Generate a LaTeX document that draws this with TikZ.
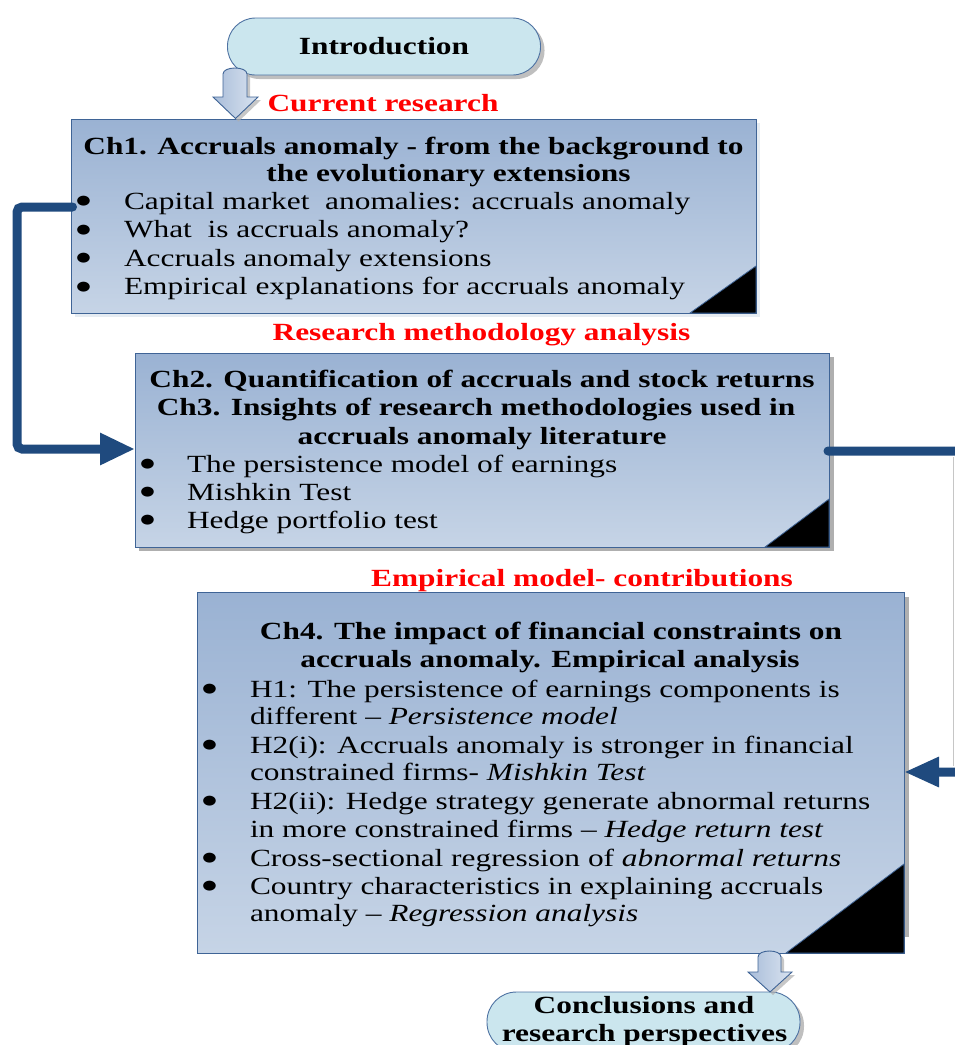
\documentclass[tikz,border=0pt]{standalone}
\usepackage{fontspec}
\setmainfont{Liberation Serif}[FakeStretch=1.27]
\newfontfamily\bulfont{DejaVu Sans}[FakeStretch=1.27]
\usetikzlibrary{arrows.meta,calc,shadows}
\definecolor{boxtop}{HTML}{9AB2D3}
\definecolor{boxbot}{HTML}{C6D4E6}
\definecolor{boxline}{HTML}{3F6496}
\definecolor{conn}{HTML}{1F4A7E}
\definecolor{pillfill}{HTML}{CBE6EE}
\definecolor{pillline}{HTML}{4E72A2}
\definecolor{arrL}{HTML}{A9BDD9}
\definecolor{arrR}{HTML}{D9E3F0}
\definecolor{shad}{HTML}{AFAFAF}
\definecolor{lightshad}{HTML}{E6ECF2}
\begin{document}
\begin{tikzpicture}[x=1pt,y=-1pt,
  every node/.style={inner sep=0pt, outer sep=0pt},
  chapbox/.style={draw=boxline, line width=0.9pt, top color=boxtop, bottom color=boxbot, rectangle, anchor=north west},
  pill/.style={draw=pillline, line width=0.9pt, fill=pillfill, minimum width=313pt,
     drop shadow={shadow xshift=4pt, shadow yshift=-4pt, fill=shad, opacity=0.8}},
  txt/.style={font=\fontsize{24.7}{28.4}\selectfont, anchor=base west},
  ttl/.style={font=\bfseries\fontsize{24.7}{27}\selectfont, anchor=base},
  redlabel/.style={font=\bfseries\fontsize{24.7}{28}\selectfont, text=red, anchor=base},
  bul/.style={font=\bulfont\fontsize{13}{14}\selectfont, anchor=center, yshift=7.5pt},
  connector/.style={draw=conn, line width=9pt, line cap=round, rounded corners=5pt},
  fold/.style={fill=black, draw=boxline, line width=0.8pt},
  blockarrow/.style={draw=boxline, line width=0.9pt, left color=arrL, right color=arrR,
     drop shadow={shadow xshift=3pt, shadow yshift=-3pt, fill=shad, opacity=0.7}}
]
\useasboundingbox (0,0) rectangle (955,1045);
\clip (0,0) rectangle (955,1045);

% shadows of the boxes
\fill[lightshad] (75,123) rectangle (760,317);
\fill[shad] (139,357) rectangle (834,551);
\fill[shad] (904,597) rectangle (909,937);

% chapter boxes
\node[chapbox, minimum width=685pt, minimum height=194pt] (b1) at (71,119) {};
\node[chapbox, minimum width=694pt, minimum height=194pt] (b2) at (135,353) {};
\node[chapbox, minimum width=707pt, minimum height=361pt] (b3) at (197,592) {};

% folded corners
\draw[fold] ($(b1.south east)+(-66,0)$) -- (b1.south east) -- ($(b1.south east)+(0,-47)$) -- cycle;
\draw[fold] ($(b2.south east)+(-64,0)$) -- (b2.south east) -- ($(b2.south east)+(0,-48)$) -- cycle;
\draw[fold] ($(b3.south east)+(-118,0)$) -- (b3.south east) -- ($(b3.south east)+(0,-89)$) -- cycle;

% terminal pills
\node[pill, minimum height=57pt, rounded corners=28pt,
      font=\bfseries\fontsize{24.7}{28}\selectfont] (intro) at (384,46.5) {Introduction};
\node[pill, minimum height=60pt, rounded corners=29.5pt] (concl) at (643.5,1022) {};
\node[ttl] (c1) at (644,1013) {Conclusions and};
\node[ttl] (c2) at (644.5,1041) {research perspectives};

% block arrows
\draw[blockarrow] (213,97) -- (223,97) -- (223,74) .. controls (223,66) and (247,66) .. (247,74)
   -- (247,97) -- (258,97) -- (235.5,118.5) -- cycle;
\draw[blockarrow] (748,972) -- (758,972) -- (758,957) .. controls (758,949) and (781,949) .. (781,957)
   -- (781,972) -- (792,972) -- (770,992) -- cycle;

% connectors
\draw[gray!45, line width=1pt] (953,457) -- (953,766);
\draw[connector, -{Triangle[length=35pt,width=30pt]}]
   ($(b1.north west)+(1.5,88)$) -- (17,207) -- (17,449) -- ($(b2.north west)+(0,96)$);
\draw[connector, -{Triangle[length=35pt,width=28pt]}]
   ($(b2.north east)+(-1,98)$) -- (962,451) -- (962,772) -- ($(b3.north east)+(0,180)$);

% section labels
\node[redlabel] (r1) at (383,111) {Current research};
\node[redlabel] (r2) at (481.5,340) {Research methodology analysis};
\node[redlabel] (r3) at (582,586) {Empirical model- contributions};

% box 1 text
\node[ttl] (t11) at (413.5,154) {Ch1. Accruals anomaly - from the background to};
\node[ttl] (t12) at (448.5,181) {the evolutionary extensions};
\node[bul] (u11) at (83.5,209) {●};
\node[bul] (u12) at (83.5,237.7) {●};
\node[bul] (u13) at (83.5,266) {●};
\node[bul] (u14) at (83.5,294.3) {●};
\node[txt] (l11) at (124,209) {Capital market\ \ anomalies: accruals anomaly};
\node[txt] (l12) at (124,237.7) {What\ \ is accruals anomaly?};
\node[txt] (l13) at (124,266) {Accruals anomaly extensions};
\node[txt] (l14) at (124,294.3) {Empirical explanations for accruals anomaly};

% box 2 text
\node[ttl] (t21) at (482,387) {Ch2. Quantification of accruals and stock returns};
\node[ttl] (t22) at (476,415) {Ch3. Insights of research methodologies used in};
\node[ttl] (t23) at (482,444) {accruals anomaly literature};
\node[bul] (u21) at (147.5,472) {●};
\node[bul] (u22) at (147.5,500) {●};
\node[bul] (u23) at (147.5,528) {●};
\node[txt] (l21) at (187,472) {The persistence model of earnings};
\node[txt] (l22) at (187,500) {Mishkin Test};
\node[txt] (l23) at (187,528) {Hedge portfolio test};

% box 3 text
\node[ttl] (t31) at (551,639) {Ch4. The impact of financial constraints on};
\node[ttl] (t32) at (550,667) {accruals anomaly. Empirical analysis};
\node[bul] (u31) at (209.5,697) {●};
\node[bul] (u32) at (209.5,753) {●};
\node[bul] (u33) at (209.5,809) {●};
\node[bul] (u34) at (209.5,866) {●};
\node[bul] (u35) at (209.5,894) {●};
\node[txt] (l31) at (250,697) {H1: The persistence of earnings components is};
\node[txt] (l32) at (250,724) {different – \textit{Persistence model}};
\node[txt] (l33) at (250,753) {H2(i): Accruals anomaly is stronger in financial};
\node[txt] (l34) at (250,780) {constrained firms- \textit{Mishkin Test}};
\node[txt] (l35) at (250,809) {H2(ii): Hedge strategy generate abnormal returns};
\node[txt] (l36) at (250,837) {in more constrained firms – \textit{Hedge return test}};
\node[txt] (l37) at (250,866) {Cross-sectional regression of \textit{abnormal returns}};
\node[txt] (l38) at (250,894) {Country characteristics in explaining accruals};
\node[txt] (l39) at (250,921) {anomaly – \textit{Regression analysis}};
\end{tikzpicture}
\end{document}
